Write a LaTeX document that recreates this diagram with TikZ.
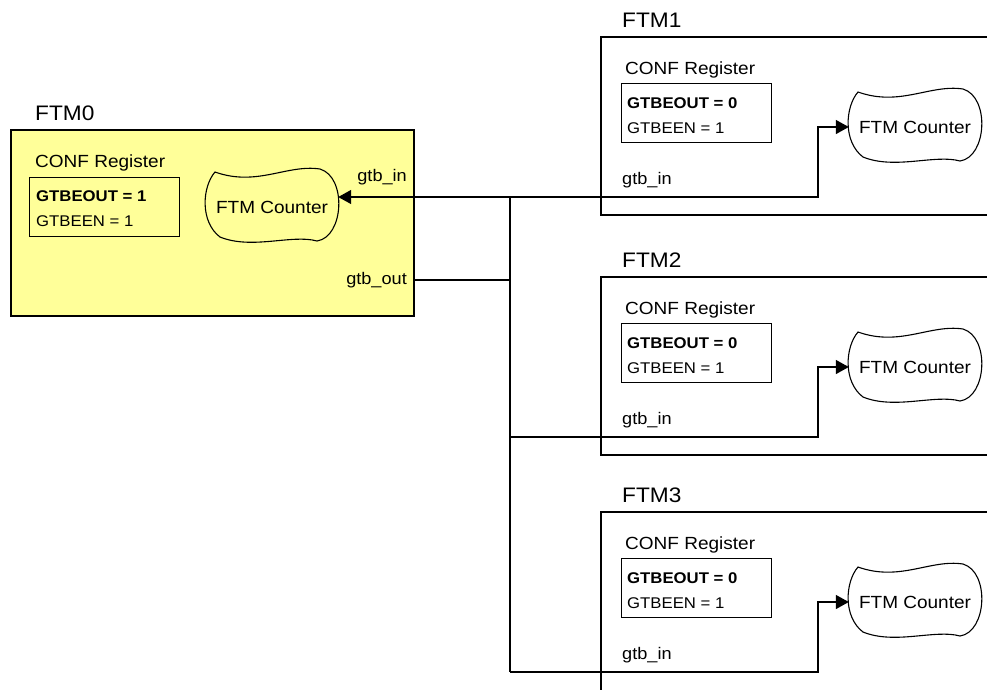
\documentclass[tikz,border=0pt]{standalone}
\usepackage{fontspec}
\setmainfont{Liberation Sans}[FakeStretch=1.08]
\usetikzlibrary{arrows.meta}
\definecolor{ftmyellow}{RGB}{255,255,153}
\tikzset{
 ftmbox/.style={draw, line width=1.8pt, anchor=north west, inner sep=0pt, outer sep=0pt},
 titletext/.style={anchor=west, inner sep=0pt, font=\fontsize{21}{24}\selectfont},
 conftext/.style={anchor=west, inner sep=0pt, font=\fontsize{17.6}{20}\selectfont},
 regbox/.style={draw, line width=1.3pt, anchor=north west, minimum width=150pt, minimum height=59pt, inner sep=0pt},
 bitb/.style={anchor=west, inner sep=0pt, font=\fontsize{15.5}{18}\selectfont\bfseries},
 bitn/.style={anchor=west, inner sep=0pt, font=\fontsize{15.5}{18}\selectfont},
 counter/.style={inner sep=0pt, minimum width=132pt, minimum height=74pt, font=\fontsize{17.6}{20}\selectfont},
 porttext/.style={inner sep=0pt, font=\fontsize{16.8}{20}\selectfont},
 wire/.style={line width=1.4pt},
 arr/.style={wire, -{Triangle[length=13pt,width=14pt]}},
 blobline/.style={line width=1.1pt},
}
\newcommand\blobshape[2]{%
 \draw[blobline, fill=#2, shift={(#1)}, x=1pt, y=1pt] (-57,35) .. controls (-15,20) and (15,43) .. (48,38) .. controls (75,30) and (72,-30) .. (45,-34) .. controls (20,-27) and (-20,-43) .. (-52,-30) .. controls (-72,-15) and (-70,20) .. (-57,35) -- cycle;}
\begin{document}
\begin{tikzpicture}[x=1pt,y=-1pt]
\clip (0,0) rectangle (987,689);
% FTM0
\node[ftmbox, fill=ftmyellow, minimum width=403pt, minimum height=186pt] (f0) at (11,130) {};
\node[titletext] (t0) at (35,113) {FTM0};
\node[conftext] (rl0) at (35,163) {CONF Register};
\node[regbox] (r0) at (29,177) {};
\node[bitb] (ra0) at (36,196) {GTBEOUT = 1};
\node[bitn] (rb0) at (36,221) {GTBEEN = 1};
\coordinate (cp0) at (272,207);
\blobshape{cp0}{ftmyellow}
\node[counter] (c0) at (cp0) {FTM Counter};
\node[porttext, anchor=east] (pin0) at (407,177) {gtb\_in};
\node[porttext, anchor=east] (pout0) at (407,280) {gtb\_out};
% FTM1..3
\foreach \n/\T/\H in {1/37/178,2/277/178,3/512/200} {
 \node[ftmbox, fill=white, minimum width=400pt, minimum height=\H pt] (f\n) at (601,\T) {};
 \node[titletext] (t\n) at (622,\T-17) {FTM\n};
 \node[conftext] (rl\n) at (625,\T+33) {CONF Register};
 \node[regbox] (r\n) at (621,\T+46) {};
 \node[bitb] (ra\n) at (627,\T+66) {GTBEOUT = 0};
 \node[bitn] (rb\n) at (627,\T+91) {GTBEEN = 1};
 \coordinate (cp\n) at (915,\T+90);
 \blobshape{cp\n}{white}
 \node[counter] (c\n) at (cp\n) {FTM Counter};
 \node[porttext, anchor=west] (pin\n) at (622,\T+143) {gtb\_in};
 \coordinate (b\n) at (510,\T+160);
 \coordinate (k\n) at (818,\T+160);
}
% connectors
\draw[wire] (b1) -- (b3);
\draw[wire] (f0.east |- pout0) -- (b1 |- pout0);
\draw[arr] (k1) -- (c0.east |- k1);
\foreach \n in {1,2,3} \draw[arr] (b\n) -- (k\n) |- (c\n.west);
\end{tikzpicture}
\end{document}
